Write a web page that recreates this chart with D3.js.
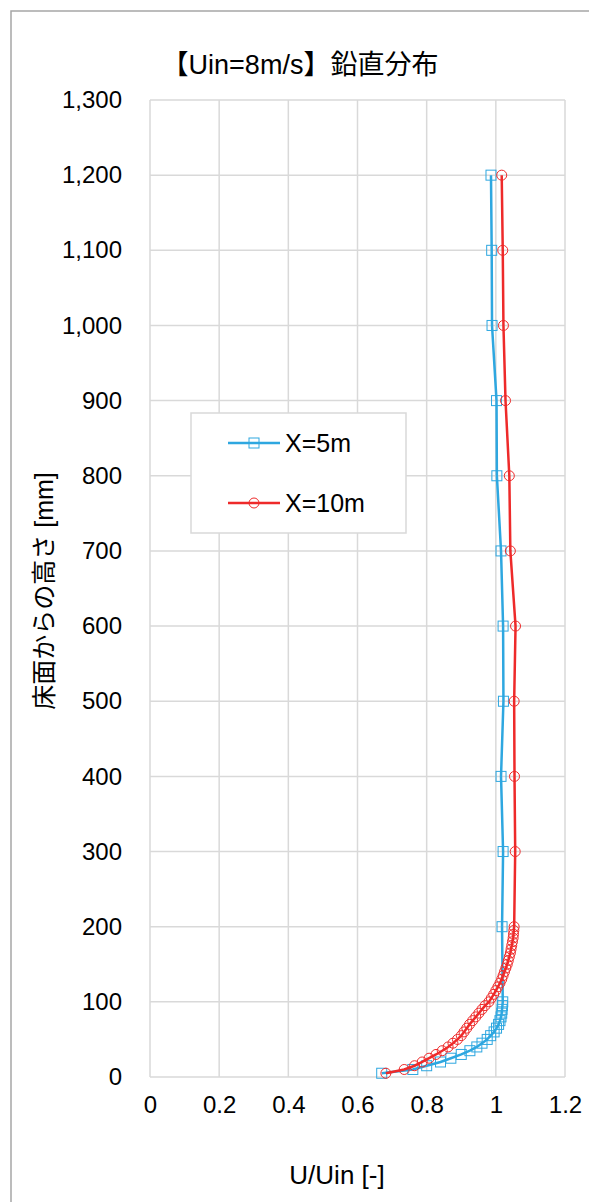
<!DOCTYPE html>
<html><head><meta charset="utf-8">
<script src="https://cdn.jsdelivr.net/npm/d3@7/dist/d3.min.js"></script>
<style>
html,body{margin:0;padding:0;background:#fff;}
text{font-family:"Liberation Sans",Arial,"Noto Sans CJK JP",sans-serif;fill:#000;}
</style></head>
<body>
<svg id="c" width="589" height="1202"></svg>
<script>
const title = "【Uin=8m/s】鉛直分布";
const xLabel = "U/Uin [-]";
const yLabel = "床面からの高さ [mm]";
const xTicks = [0, 0.2, 0.4, 0.6, 0.8, 1, 1.2];
const yTicks = [0,100,200,300,400,500,600,700,800,900,1000,1100,1200,1300];
const seriesNames = ["X=5m", "X=10m"];

const heights5 = [5,10,15,20,25,30,35,40,45,50,55,60,65,70,75,80,85,90,95,100,
  200,300,400,500,600,700,800,900,1000,1100,1200];
const u5 = [0.670,0.760,0.800,0.840,0.870,0.900,0.925,0.945,0.960,0.975,0.985,0.995,1.002,1.008,1.012,1.015,1.017,1.018,1.019,1.020,
  1.018,1.021,1.015,1.022,1.021,1.015,1.003,1.002,0.989,0.988,0.986];

const heights10 = [5,10,15,20,25,30,35,40,45,50,55,60,65,70,75,80,85,90,95,100,
  105,110,115,120,125,130,135,140,145,150,155,160,165,170,175,180,185,190,195,200,
  300,400,500,600,700,800,900,1000,1100,1200];
const u10 = [0.682,0.735,0.765,0.787,0.807,0.827,0.845,0.862,0.876,0.889,0.900,0.908,0.916,0.924,0.933,0.942,0.951,0.960,0.969,0.980,
  0.987,0.994,1.000,1.006,1.012,1.017,1.021,1.025,1.029,1.033,1.036,1.039,1.042,1.044,1.046,1.048,1.050,1.051,1.052,1.053,
  1.056,1.054,1.053,1.057,1.042,1.039,1.028,1.022,1.020,1.017];

const blue = "#2ea7e0", red = "#ee2a2a", grid = "#d9d9d9";
const svg = d3.select("#c");

// outer chart border
svg.append("rect").attr("x",11).attr("y",11).attr("width",600).attr("height",1210)
  .attr("fill","none").attr("stroke","#a6a6a6").attr("stroke-width",1.5);

const x = d3.scaleLinear().domain([0,1.2]).range([150,565]);
const y = d3.scaleLinear().domain([0,1300]).range([1077,100]);

// gridlines
const g = svg.append("g");
g.selectAll("line.h").data(yTicks).join("line")
  .attr("x1",x(0)).attr("x2",x(1.2)).attr("y1",d=>y(d)).attr("y2",d=>y(d))
  .attr("stroke",grid).attr("stroke-width",1.5);
g.selectAll("line.v").data(xTicks).join("line")
  .attr("y1",y(0)).attr("y2",y(1300)).attr("x1",d=>x(d)).attr("x2",d=>x(d))
  .attr("stroke",grid).attr("stroke-width",1.5);

// axes labels via d3 axes
const yAxis = svg.append("g").attr("transform",`translate(${x(0)},0)`)
  .call(d3.axisLeft(y).tickValues(yTicks).tickFormat(d3.format(",")).tickSize(0).tickPadding(28));
const xAxis = svg.append("g").attr("transform",`translate(0,${y(0)})`)
  .call(d3.axisBottom(x).tickValues(xTicks).tickFormat(d=>String(d)).tickSize(0).tickPadding(19));
[yAxis,xAxis].forEach(a=>{a.select(".domain").remove();a.selectAll("text").attr("font-size",24).attr("fill","#000").style("font-family",'"Liberation Sans",Arial,sans-serif');});

// titles
svg.append("text").attr("x",300).attr("y",74).attr("text-anchor","middle").attr("font-size",27).text(title);
svg.append("text").attr("x",337).attr("y",1184).attr("text-anchor","middle").attr("font-size",26).text(xLabel);
svg.append("text").attr("transform","translate(53,591) rotate(-90)").attr("text-anchor","middle").attr("font-size",25).text(yLabel);

// series
const line = d3.line().x(d=>x(d[0])).y(d=>y(d[1]));
const d5 = u5.map((v,i)=>[v,heights5[i]]);
const d10 = u10.map((v,i)=>[v,heights10[i]]);

svg.append("path").attr("d",line(d5)).attr("fill","none").attr("stroke",blue).attr("stroke-width",2.5);
svg.selectAll("rect.m5").data(d5).join("rect")
  .attr("x",d=>x(d[0])-5).attr("y",d=>y(d[1])-5).attr("width",10).attr("height",10)
  .attr("fill","none").attr("stroke",blue).attr("stroke-width",1);

svg.append("path").attr("d",line(d10)).attr("fill","none").attr("stroke",red).attr("stroke-width",2.5);
svg.selectAll("circle.m10").data(d10).join("circle")
  .attr("cx",d=>x(d[0])).attr("cy",d=>y(d[1])).attr("r",5)
  .attr("fill","none").attr("stroke",red).attr("stroke-width",1);

// legend
const lg = svg.append("g");
lg.append("rect").attr("x",191).attr("y",413).attr("width",215).attr("height",120)
  .attr("fill","#fff").attr("stroke",grid).attr("stroke-width",1.5);
const ly = [443, 503];
const cols = [blue, red];
seriesNames.forEach((n,i)=>{
  lg.append("line").attr("x1",228).attr("x2",280).attr("y1",ly[i]).attr("y2",ly[i])
    .attr("stroke",cols[i]).attr("stroke-width",2.5);
  if(i===0) lg.append("rect").attr("x",249).attr("y",ly[i]-5).attr("width",10).attr("height",10)
    .attr("fill","none").attr("stroke",cols[i]).attr("stroke-width",1);
  else lg.append("circle").attr("cx",254).attr("cy",ly[i]).attr("r",5)
    .attr("fill","none").attr("stroke",cols[i]).attr("stroke-width",1);
  lg.append("text").attr("x",285).attr("y",ly[i]+9).attr("font-size",25).text(n);
});
</script>
</body></html>
